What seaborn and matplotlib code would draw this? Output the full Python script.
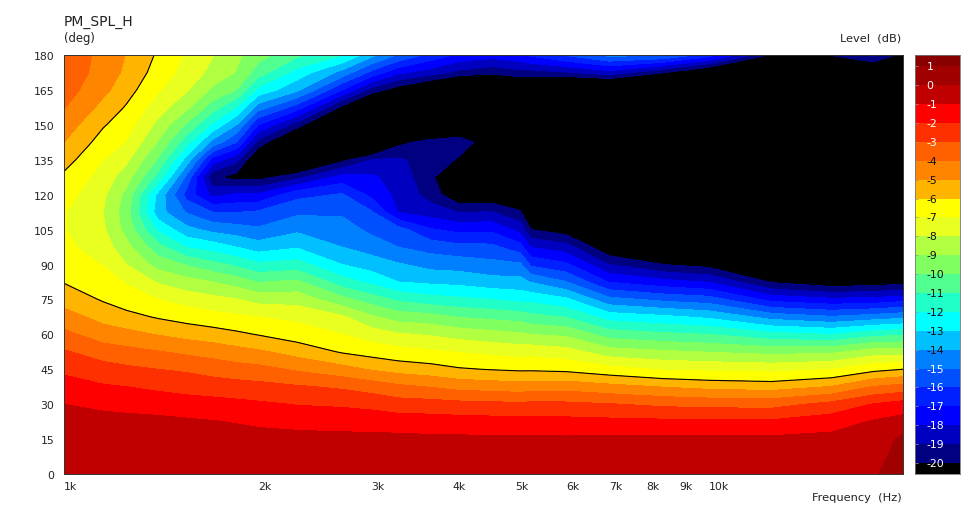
import numpy as np
import matplotlib
matplotlib.use("Agg")
import matplotlib.pyplot as plt
import seaborn as sns
from matplotlib.colors import ListedColormap
from matplotlib.ticker import NullFormatter, NullLocator

# polar map, one list per frequency, angle 0 -> 180 in 7.5 deg steps
angles = [0, 7.5, 15, 22.5, 30, 37.5, 45, 52.5, 60, 67.5, 75, 82.5, 90,
          97.5, 105, 112.5, 120, 127.5, 135, 142.5, 150, 157.5, 165, 172.5, 180]
freqs = [1000, 1150, 1250, 1400, 1550, 1700, 1850, 2000, 2300, 2700, 3000, 3300, 3700, 4100,
         4600, 5100, 5300, 6000, 7000, 8500, 10000, 12500, 15500, 18000, 20000]

f1000 = [-0.5, -0.5, -0.6, -0.8, -1.0, -1.6, -2.2, -2.9, -3.75, -4.6, -5.4, -6.05, -6.5,
         -6.8, -6.95, -6.95, -6.6, -6.2, -5.6, -5.0, -4.5, -3.95, -3.55, -3.3, -3.2]
f1150 = [-0.4, -0.45, -0.55, -0.7, -1.2, -1.9, -2.6, -3.5, -4.5, -5.35, -6.1, -6.55, -7.05,
         -7.5, -7.85, -8.0, -7.8, -7.45, -7.0, -6.45, -5.9, -5.3, -4.75, -4.45, -4.35]
f1250 = [-0.38, -0.42, -0.52, -0.72, -1.3, -2.0, -2.8, -3.7, -4.7, -5.7, -6.5, -7.1, -8.0,
         -8.7, -9.35, -9.6, -9.3, -8.55, -7.8, -7.05, -6.6, -6.1, -5.6, -5.2, -5.05]
f1400 = [-0.35, -0.4, -0.5, -0.75, -1.45, -2.2, -3.0, -3.95, -5.05, -6.1, -7.0, -8.1, -9.4,
         -10.65, -12.2, -13.6, -13.3, -11.4, -10.15, -9.1, -8.3, -7.55, -6.9, -6.45, -6.15]
f1550 = [-0.32, -0.38, -0.55, -0.85, -1.6, -2.35, -3.15, -4.2, -5.35, -6.4, -7.45, -8.6, -10.1,
         -12.05, -13.7, -15.1, -16.4, -15.3, -13.4, -11.6, -10.15, -8.8, -7.9, -7.4, -7.15]
f1700 = [-0.3, -0.4, -0.6, -0.95, -1.65, -2.5, -3.4, -4.4, -5.55, -6.65, -7.7, -9.0, -10.7,
         -12.45, -14.3, -16.0, -18.3, -19.8, -17.4, -14.35, -12.2, -10.5, -9.2, -8.3, -7.95]
f1850 = [-0.3, -0.42, -0.65, -1.05, -1.75, -2.6, -3.6, -4.65, -5.8, -6.85, -7.95, -9.45, -11.2,
         -13.0, -14.55, -16.05, -17.85, -20.4, -18.7, -16.0, -14.0, -12.0, -10.0, -9.05, -8.8]
f2000 = [-0.3, -0.45, -0.7, -1.15, -1.85, -2.7, -3.7, -4.85, -6.05, -7.0, -8.35, -10.05, -11.8,
         -13.5, -14.85, -15.85, -17.85, -20.4, -21.4, -19.35, -17.0, -14.5, -12.3, -10.5, -9.6]
f2300 = [-0.3, -0.45, -0.7, -1.3, -2.05, -2.9, -4.15, -5.4, -6.5, -7.25, -8.4, -9.8, -11.6,
         -13.1, -14.2, -15.2, -16.3, -19.3, -22.5, -22.3, -19.5, -16.5, -13.8, -12.4, -10.8]
f2700 = [-0.3, -0.45, -0.75, -1.35, -2.15, -3.15, -4.65, -6.1, -7.0, -7.85, -9.7, -11.55, -13.0,
         -14.0, -14.55, -15.15, -15.9, -17.6, -20.3, -23.0, -23.0, -20.3, -17.0, -14.35, -11.9]
f3000 = [-0.3, -0.45, -0.75, -1.4, -2.3, -3.45, -5.1, -6.4, -7.5, -8.85, -10.5, -12.25, -13.5,
         -14.45, -15.25, -15.9, -17.3, -17.8, -19.0, -23.0, -24.0, -22.5, -19.4, -16.3, -13.7]
f3300 = [-0.3, -0.45, -0.75, -1.5, -2.55, -3.8, -5.4, -6.65, -7.9, -9.45, -11.2, -13.0, -13.9,
         -15.0, -15.6, -18.05, -18.3, -18.6, -18.85, -20.3, -24.0, -24.0, -20.6, -17.75, -15.1]
f3700 = [-0.3, -0.45, -0.8, -1.55, -2.6, -4.05, -5.6, -6.85, -8.1, -9.65, -11.6, -13.2, -14.35,
         -15.4, -16.9, -18.5, -19.4, -19.5, -19.5, -19.6, -22.0, -25.0, -21.8, -18.5, -16.3]
f4100 = [-0.3, -0.45, -0.8, -1.6, -2.7, -4.35, -5.9, -7.05, -8.4, -10.05, -11.8, -13.3, -14.45,
         -15.7, -17.3, -19.05, -21.0, -23.0, -20.1, -19.6, -21.0, -25.0, -23.0, -19.3, -17.2]
f4600 = [-0.3, -0.45, -0.85, -1.65, -2.75, -4.45, -6.05, -7.25, -8.65, -10.25, -12.0, -13.6, -14.7,
         -15.75, -17.2, -18.95, -21.0, -23.0, -22.5, -20.5, -22.0, -25.0, -23.0, -19.7, -17.6]
f5100 = [-0.3, -0.45, -0.85, -1.65, -2.85, -4.55, -6.15, -7.4, -8.85, -10.45, -12.3, -13.65, -14.85,
         -16.6, -18.35, -19.8, -22.0, -24.0, -25.0, -25.0, -25.0, -25.0, -22.0, -19.35, -17.2]
f5300 = [-0.3, -0.45, -0.85, -1.65, -2.75, -4.45, -6.15, -7.35, -9.0, -10.7, -12.3, -14.05, -16.2,
         -18.05, -20.0, -22.5, -24.0, -25.0, -25.0, -25.0, -25.0, -25.0, -22.0, -19.35, -16.8]
f6000 = [-0.3, -0.45, -0.85, -1.7, -2.8, -4.4, -6.25, -7.6, -9.2, -11.05, -12.8, -14.95, -16.8,
         -18.55, -20.6, -23.0, -25.0, -25.0, -25.0, -25.0, -25.0, -25.0, -23.0, -19.1, -15.9]
f7000 = [-0.25, -0.4, -0.8, -1.75, -2.95, -4.7, -6.65, -8.55, -10.45, -12.45, -14.7, -17.05, -19.0,
         -21.0, -23.5, -25.0, -25.0, -25.0, -25.0, -25.0, -25.0, -25.0, -23.0, -18.4, -14.7]
f8500 = [-0.25, -0.4, -0.8, -1.8, -3.2, -5.05, -7.1, -8.85, -10.8, -12.8, -15.25, -17.65, -20.0,
         -23.0, -25.0, -25.0, -25.0, -25.0, -25.0, -25.0, -25.0, -25.0, -24.0, -19.9, -14.95]
f10000 = [-0.25, -0.4, -0.8, -1.85, -3.3, -5.3, -7.2, -9.05, -11.0, -13.2, -15.55, -18.05, -20.4,
          -23.0, -25.0, -25.0, -25.0, -25.0, -25.0, -25.0, -25.0, -25.0, -24.0, -21.5, -16.5]
f12500 = [-0.2, -0.35, -0.8, -1.85, -3.35, -5.45, -7.3, -9.3, -11.7, -14.4, -17.35, -20.1, -23.0,
          -25.0, -25.0, -25.0, -25.0, -25.0, -25.0, -25.0, -25.0, -25.0, -25.0, -23.0, -20.2]
f15500 = [-0.15, -0.3, -0.7, -1.45, -2.7, -4.95, -7.0, -9.2, -12.0, -14.9, -17.8, -20.75, -24.0,
          -25.0, -25.0, -25.0, -25.0, -25.0, -25.0, -25.0, -25.0, -25.0, -25.0, -23.0, -19.9]
f18000 = [-0.1, -0.3, -0.5, -0.9, -1.95, -3.95, -6.3, -8.5, -11.35, -14.55, -17.7, -20.6, -24.0,
          -25.0, -25.0, -25.0, -25.0, -25.0, -25.0, -25.0, -25.0, -25.0, -24.0, -21.8, -18.8]
f20000 = [0.5, 0.35, 0.2, -0.6, -1.6, -3.65, -6.0, -8.5, -11.15, -14.25, -17.4, -20.4, -24.0,
          -25.0, -25.0, -25.0, -25.0, -25.0, -25.0, -25.0, -25.0, -25.0, -25.0, -23.0, -20.4]

columns = [f1000, f1150, f1250, f1400, f1550, f1700, f1850, f2000, f2300, f2700, f3000, f3300, f3700, f4100,
           f4600, f5100, f5300, f6000, f7000, f8500, f10000, f12500, f15500, f18000, f20000]

freq_ticks = [1000, 2000, 3000, 4000, 5000, 6000, 7000, 8000, 9000, 10000]
freq_labels = ["1k", "2k", "3k", "4k", "5k", "6k", "7k", "8k", "9k", "10k"]
angle_ticks = list(range(0, 181, 15))
level_ticks = list(range(-20, 2))

# band colours, lowest (below -20) first
band_colors = ["#000000", "#000080", "#0000c0", "#0000ff", "#0020ff", "#0050ff",
               "#0080ff", "#00c0ff", "#00ffff", "#20ffc8", "#50ff90", "#80ff60",
               "#b0ff40", "#e8ff20", "#ffff00", "#ffb400", "#ff8400", "#ff6000",
               "#ff3000", "#ff0000", "#c00000", "#a00000", "#880000"]

sns.set_theme(style="white")
plt.rcParams["font.family"] = ["DejaVu Sans"]
palette = sns.color_palette(band_colors)

W, H = 973.0, 510.0
fig = plt.figure(figsize=(9.73, 5.10), dpi=100, facecolor="white")
ax = fig.add_axes([64 / W, 1 - 475 / H, 839 / W, 419 / H])
cax = fig.add_axes([915 / W, 1 - 475 / H, 45 / W, 419 / H])

# ------ main map ------
grid = np.column_stack(columns)
bounds = [-40] + level_ticks + [5]
ax.contourf(freqs, angles, grid, levels=bounds, colors=palette)
ax.contour(freqs, angles, grid, levels=[-6], colors="black", linewidths=0.8, linestyles="solid")

ax.set_xscale("log")
ax.set_xlim(1000, 20000)
ax.set_ylim(0, 180)
ax.xaxis.set_minor_locator(NullLocator())
ax.xaxis.set_minor_formatter(NullFormatter())
ax.set_xticks(freq_ticks)
ax.set_xticklabels(freq_labels, ha="left", fontsize=7.8, color="#222222")
ax.set_yticks(angle_ticks)
ax.set_yticklabels([str(a) for a in angle_ticks], fontsize=7.8, color="#222222")
ax.tick_params(axis="both", direction="in", length=3, width=0.5, color="#dddddd",
               top=True, right=True, left=True, bottom=True, pad=7)
ax.tick_params(axis="x", pad=5)
for spine in ax.spines.values():
    spine.set_linewidth(0.7)
    spine.set_color("#333333")

# ------ level bar ------
edges = [-20.58] + level_ticks + [1.6]
cax.pcolormesh([0, 1], edges, np.arange(len(band_colors)).reshape(-1, 1),
               cmap=ListedColormap(palette), shading="flat")
cax.set_xlim(0, 1)
cax.set_ylim(edges[0], edges[-1])
cax.set_xticks([])
cax.yaxis.set_major_locator(NullLocator())
for spine in cax.spines.values():
    spine.set_linewidth(0.6)
    spine.set_color("#777777")
for lvl in level_ticks:
    dark_text = -14 <= lvl <= -4
    cax.text(0.26, lvl, str(lvl), fontsize=7.8, va="center", ha="left",
             color="#111111" if dark_text else "white")
    cax.plot([0, 0.07], [lvl, lvl], color="#999999", lw=0.5)

# ------ titles ------
fig.text(64 / W, 1 - 22 / H, "PM_SPL_H", fontsize=10, va="center", ha="left", color="#222222")
fig.text(64 / W, 1 - 39 / H, "(deg)", fontsize=8.4, va="center", ha="left", color="#222222")
fig.text(901 / W, 1 - 39 / H, "Level  (dB)", fontsize=8.2, va="center", ha="right", color="#222222")
fig.text(902 / W, 1 - 498 / H, "Frequency  (Hz)", fontsize=8.2, va="center", ha="right", color="#222222")

fig.savefig("out.png", dpi=100)
